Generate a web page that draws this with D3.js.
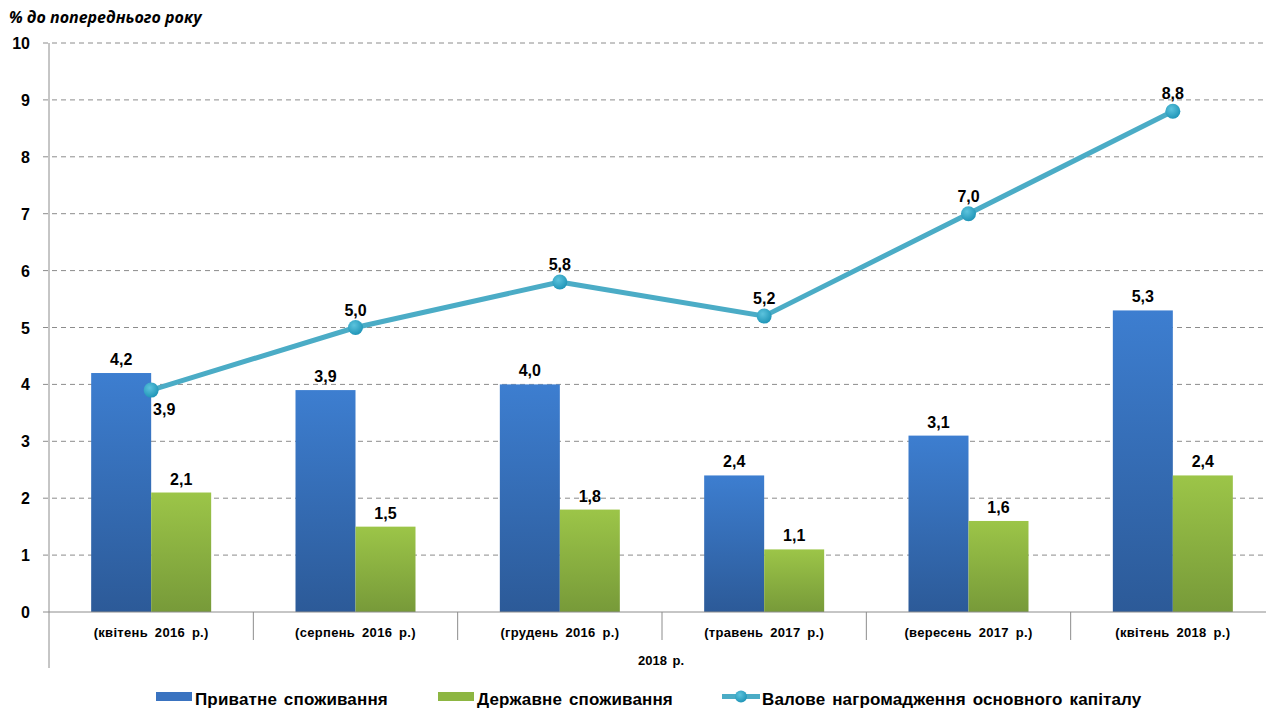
<!DOCTYPE html>
<html>
<head>
<meta charset="utf-8">
<script src="https://cdn.jsdelivr.net/npm/d3@7"></script>
<style>
  body { margin: 0; background: #fff; }
  svg { font-family: "Liberation Sans", Arial, sans-serif; }
</style>
</head>
<body>
<div id="chart"></div>
<script>
const categories = ["(квітень 2016 р.)", "(серпень 2016 р.)", "(грудень 2016 р.)", "(травень 2017 р.)", "(вересень 2017 р.)", "(квітень 2018 р.)"];
const privateCons = [4.2, 3.9, 4.0, 2.4, 3.1, 5.3];
const privateLabels = ["4,2", "3,9", "4,0", "2,4", "3,1", "5,3"];
const govCons = [2.1, 1.5, 1.8, 1.1, 1.6, 2.4];
const govLabels = ["2,1", "1,5", "1,8", "1,1", "1,6", "2,4"];
const capital = [3.9, 5.0, 5.8, 5.2, 7.0, 8.8];
const capitalLabels = ["3,9", "5,0", "5,8", "5,2", "7,0", "8,8"];
const seriesNames = ["Приватне споживання", "Державне споживання", "Валове нагромадження основного капіталу"];
const yTicks = [0, 1, 2, 3, 4, 5, 6, 7, 8, 9, 10];

const width = 1266, height = 709;
const plot = { left: 49, right: 1275, top: 43, bottom: 612 };

const svg = d3.select("#chart").append("svg")
  .attr("width", width).attr("height", height);

const defs = svg.append("defs");
const blueGrad = defs.append("linearGradient").attr("id", "blueGrad")
  .attr("x1", 0).attr("y1", 0).attr("x2", 0).attr("y2", 1);
blueGrad.append("stop").attr("offset", "0%").attr("stop-color", "#3d7ed0");
blueGrad.append("stop").attr("offset", "100%").attr("stop-color", "#2c5a98");
const greenGrad = defs.append("linearGradient").attr("id", "greenGrad")
  .attr("x1", 0).attr("y1", 0).attr("x2", 0).attr("y2", 1);
greenGrad.append("stop").attr("offset", "0%").attr("stop-color", "#9cc548");
greenGrad.append("stop").attr("offset", "100%").attr("stop-color", "#779a39");
const dotGrad = defs.append("radialGradient").attr("id", "dotGrad")
  .attr("cx", "40%").attr("cy", "35%").attr("r", "65%");
dotGrad.append("stop").attr("offset", "0%").attr("stop-color", "#5cc3dd");
dotGrad.append("stop").attr("offset", "100%").attr("stop-color", "#2196b8");

const x = d3.scaleBand().domain(categories).range([plot.left, plot.right]).paddingInner(0).paddingOuter(0);
const y = d3.scaleLinear().domain([0, 10]).range([plot.bottom, plot.top]);
const bw = x.bandwidth();
const barW = 60;
const barOffset = (bw - 2 * barW) / 2;

// grid
svg.append("g").selectAll("line")
  .data(yTicks.filter(d => d > 0))
  .join("line")
  .attr("x1", plot.left - 6).attr("x2", width)
  .attr("y1", d => y(d)).attr("y2", d => y(d))
  .attr("stroke", "#8c8c8c").attr("stroke-width", 1)
  .attr("stroke-dasharray", "5,4");

// y tick labels
svg.append("g").selectAll("text")
  .data(yTicks)
  .join("text")
  .attr("x", 30).attr("y", d => y(d) + 6)
  .attr("text-anchor", "end")
  .attr("font-size", 16).attr("font-weight", "bold")
  .text(d => d);

// title
svg.append("text")
  .attr("x", 9).attr("y", 23)
  .attr("font-family", "'Open Sans', 'DejaVu Sans', sans-serif")
  .attr("font-size", 16).attr("font-weight", "bold").attr("font-style", "italic")
  .text("% до попереднього року");

// bars
const groups = svg.append("g").selectAll("g")
  .data(categories)
  .join("g")
  .attr("transform", d => `translate(${x(d)},0)`);

groups.append("rect")
  .attr("x", barOffset).attr("width", barW)
  .attr("y", (d, i) => y(privateCons[i]))
  .attr("height", (d, i) => y(0) - y(privateCons[i]))
  .attr("fill", "url(#blueGrad)");

groups.append("rect")
  .attr("x", barOffset + barW).attr("width", barW)
  .attr("y", (d, i) => y(govCons[i]))
  .attr("height", (d, i) => y(0) - y(govCons[i]))
  .attr("fill", "url(#greenGrad)");

groups.append("text")
  .attr("x", barOffset + barW / 2)
  .attr("y", (d, i) => y(privateCons[i]) - 8)
  .attr("text-anchor", "middle")
  .attr("font-size", 16).attr("font-weight", "bold")
  .text((d, i) => privateLabels[i]);

groups.append("text")
  .attr("x", barOffset + barW * 1.5)
  .attr("y", (d, i) => y(govCons[i]) - 8)
  .attr("text-anchor", "middle")
  .attr("font-size", 16).attr("font-weight", "bold")
  .text((d, i) => govLabels[i]);

// axes
svg.append("line")
  .attr("x1", plot.left - 6).attr("x2", width)
  .attr("y1", plot.bottom).attr("y2", plot.bottom)
  .attr("stroke", "#8c8c8c");
svg.append("line")
  .attr("x1", plot.left).attr("x2", plot.left)
  .attr("y1", plot.top).attr("y2", 668)
  .attr("stroke", "#8c8c8c");
svg.append("g").selectAll("line")
  .data(categories.slice(1))
  .join("line")
  .attr("x1", d => x(d)).attr("x2", d => x(d))
  .attr("y1", plot.bottom).attr("y2", 640)
  .attr("stroke", "#8c8c8c");

svg.append("g").selectAll("text")
  .data(categories)
  .join("text")
  .attr("x", d => x(d) + bw / 2).attr("y", 637)
  .attr("text-anchor", "middle")
  .attr("font-size", 13).attr("font-weight", "bold")
  .attr("word-spacing", 3).attr("letter-spacing", 0.3)
  .text(d => d);

svg.append("text")
  .attr("x", (plot.left + plot.right) / 2 - 1).attr("y", 665)
  .attr("text-anchor", "middle")
  .attr("font-size", 13).attr("font-weight", "bold")
  .attr("word-spacing", 2)
  .text("2018 р.");

// line
const cx = (d) => x(d) + bw / 2;
const line = d3.line()
  .x((d, i) => cx(categories[i]))
  .y(d => y(d));

svg.append("path")
  .datum(capital)
  .attr("d", line)
  .attr("fill", "none")
  .attr("stroke", "#4bacc6")
  .attr("stroke-width", 5)
  .attr("stroke-linejoin", "round");

svg.append("g").selectAll("circle")
  .data(capital)
  .join("circle")
  .attr("cx", (d, i) => cx(categories[i]))
  .attr("cy", d => y(d))
  .attr("r", 7.5)
  .attr("fill", "url(#dotGrad)");

svg.append("g").selectAll("text")
  .data(capital)
  .join("text")
  .attr("x", (d, i) => cx(categories[i]) + (i === 0 ? 13 : 0))
  .attr("y", (d, i) => i === 0 ? y(d) + 25 : y(d) - 12)
  .attr("text-anchor", "middle")
  .attr("font-size", 16).attr("font-weight", "bold")
  .text((d, i) => capitalLabels[i]);

// legend
const legend = svg.append("g").attr("font-size", 17).attr("font-weight", "bold")
  .attr("letter-spacing", 0.15).attr("word-spacing", 2);
legend.append("rect").attr("x", 156).attr("y", 692).attr("width", 36).attr("height", 9).attr("fill", "#3a73c0");
legend.append("text").attr("x", 195).attr("y", 705).text(seriesNames[0]);
legend.append("rect").attr("x", 438).attr("y", 692).attr("width", 36).attr("height", 9).attr("fill", "#8db642");
legend.append("text").attr("x", 477).attr("y", 705).text(seriesNames[1]);
legend.append("line").attr("x1", 722).attr("x2", 760).attr("y1", 696.5).attr("y2", 696.5)
  .attr("stroke", "#4bacc6").attr("stroke-width", 5);
legend.append("circle").attr("cx", 741).attr("cy", 696.5).attr("r", 6).attr("fill", "url(#dotGrad)");
legend.append("text").attr("x", 762).attr("y", 705).text(seriesNames[2]);
</script>
</body>
</html>
